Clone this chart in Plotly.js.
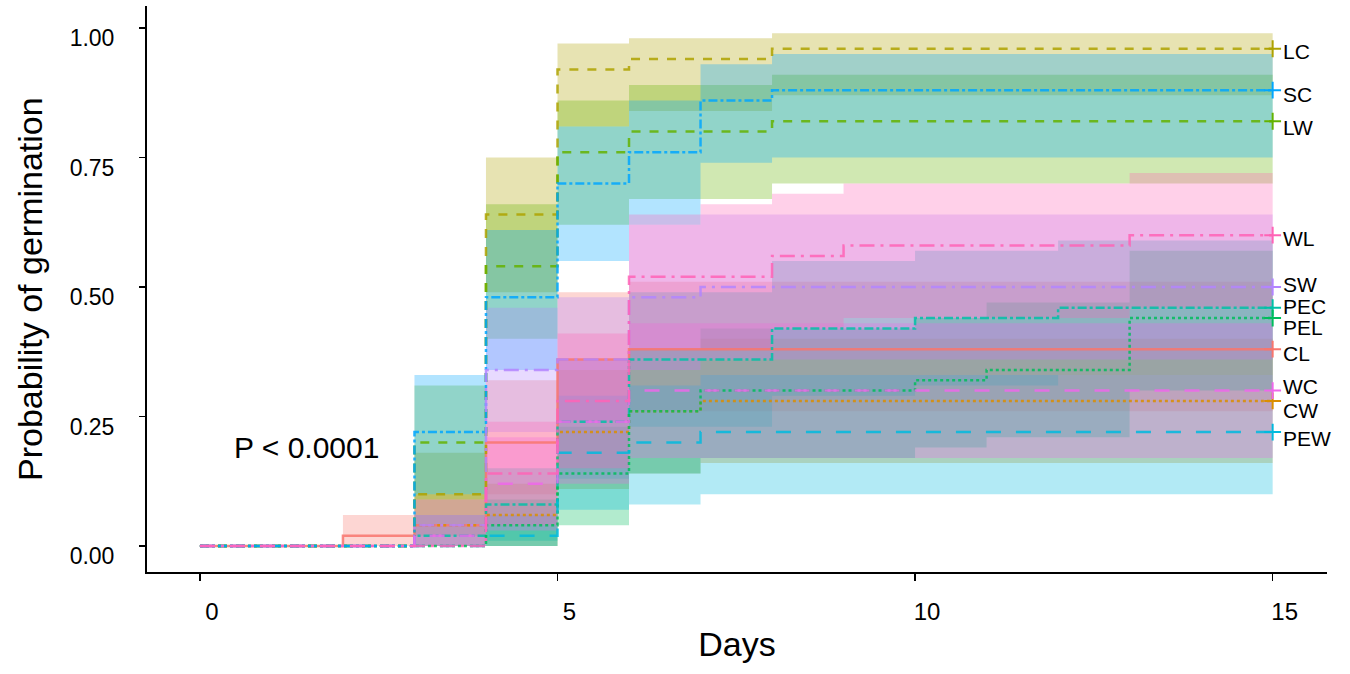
<!DOCTYPE html>
<html>
<head>
<meta charset="utf-8">
<script src="https://cdn.plot.ly/plotly-3.0.1.min.js"></script>
<style>
  body { margin: 0; background: #fff; }
  #plotDiv { width: 1350px; height: 674px; }
</style>
</head>
<body>
<div id="plotDiv"></div>
<script>
var days = [0,1,2,3,4,5,6,7,8,9,10,11,12,13,14,15];
var groups = ['CL','CW','LC','LW','PEC','PEL','PEW','SC','SW','WC','WL'];

// cumulative germination (KM estimate) per day, with lower / upper band
var CL     = [0,0,0.02,0.04,0.20,0.36,0.38,0.38,0.38,0.38,0.38,0.38,0.38,0.38,0.38,0.38];
var CL_lo  = [0,0,0,0,0.10,0.24,0.26,0.26,0.26,0.26,0.26,0.26,0.26,0.26,0.26,0.26];
var CL_hi  = [0,0,0.06,0.10,0.32,0.49,0.51,0.51,0.51,0.51,0.51,0.51,0.51,0.51,0.51,0.51];

var CW     = [0,0,0,0.04,0.06,0.22,0.26,0.28,0.28,0.28,0.28,0.28,0.28,0.28,0.28,0.28];
var CW_lo  = [0,0,0,0,0,0.11,0.14,0.16,0.16,0.16,0.16,0.16,0.16,0.16,0.16,0.16];
var CW_hi  = [0,0,0,0.09,0.12,0.34,0.38,0.40,0.40,0.40,0.40,0.40,0.40,0.40,0.40,0.40];

var LC     = [0,0,0,0.10,0.64,0.92,0.94,0.94,0.96,0.96,0.96,0.96,0.96,0.96,0.96,0.96];
var LC_lo  = [0,0,0,0.02,0.49,0.81,0.84,0.84,0.87,0.87,0.87,0.87,0.87,0.87,0.87,0.87];
var LC_hi  = [0,0,0,0.18,0.75,0.97,0.98,0.98,0.99,0.99,0.99,0.99,0.99,0.99,0.99,0.99];

var LW     = [0,0,0,0.20,0.54,0.76,0.80,0.80,0.82,0.82,0.82,0.82,0.82,0.82,0.82,0.82];
var LW_lo  = [0,0,0,0.09,0.40,0.62,0.67,0.67,0.70,0.70,0.70,0.70,0.70,0.70,0.70,0.70];
var LW_hi  = [0,0,0,0.31,0.66,0.86,0.89,0.89,0.91,0.91,0.91,0.91,0.91,0.91,0.91,0.91];

var PEC    = [0,0,0,0.02,0.08,0.24,0.36,0.36,0.42,0.42,0.44,0.44,0.46,0.46,0.46,0.46];
var PEC_lo = [0,0,0,0,0.01,0.13,0.23,0.23,0.29,0.29,0.31,0.31,0.33,0.33,0.33,0.33];
var PEC_hi = [0,0,0,0.06,0.15,0.36,0.49,0.49,0.55,0.55,0.57,0.57,0.59,0.59,0.59,0.59];

var PEL    = [0,0,0,0,0.04,0.14,0.26,0.30,0.30,0.30,0.32,0.34,0.34,0.44,0.44,0.44];
var PEL_lo = [0,0,0,0,0,0.04,0.14,0.17,0.17,0.17,0.19,0.21,0.21,0.30,0.30,0.30];
var PEL_hi = [0,0,0,0,0.09,0.23,0.38,0.42,0.42,0.42,0.44,0.47,0.47,0.57,0.57,0.57];

var PEW    = [0,0,0,0,0.02,0.18,0.20,0.22,0.22,0.22,0.22,0.22,0.22,0.22,0.22,0.22];
var PEW_lo = [0,0,0,0,0,0.07,0.08,0.10,0.10,0.10,0.10,0.10,0.10,0.10,0.10,0.10];
var PEW_hi = [0,0,0,0,0.06,0.29,0.31,0.33,0.33,0.33,0.33,0.33,0.33,0.33,0.33,0.33];

var SC     = [0,0,0,0.22,0.48,0.70,0.76,0.86,0.88,0.88,0.88,0.88,0.88,0.88,0.88,0.88];
var SC_lo  = [0,0,0,0.10,0.34,0.55,0.62,0.74,0.75,0.75,0.75,0.75,0.75,0.75,0.75,0.75];
var SC_hi  = [0,0,0,0.33,0.61,0.81,0.86,0.93,0.95,0.95,0.95,0.95,0.95,0.95,0.95,0.95];

var SW     = [0,0,0,0.04,0.34,0.36,0.48,0.50,0.50,0.50,0.50,0.50,0.50,0.50,0.50,0.50];
var SW_lo  = [0,0,0,0,0.22,0.24,0.34,0.36,0.36,0.36,0.36,0.36,0.36,0.36,0.36,0.36];
var SW_hi  = [0,0,0,0.09,0.46,0.48,0.62,0.64,0.64,0.64,0.64,0.64,0.64,0.64,0.64,0.64];

var WC     = [0,0,0,0.02,0.12,0.24,0.30,0.30,0.30,0.30,0.30,0.30,0.30,0.30,0.30,0.30];
var WC_lo  = [0,0,0,0,0.03,0.12,0.17,0.17,0.17,0.17,0.17,0.17,0.17,0.17,0.17,0.17];
var WC_hi  = [0,0,0,0.06,0.21,0.36,0.43,0.43,0.43,0.43,0.43,0.43,0.43,0.43,0.43,0.43];

var WL     = [0,0,0,0,0.14,0.28,0.52,0.52,0.56,0.58,0.58,0.58,0.58,0.60,0.60,0.60];
var WL_lo  = [0,0,0,0,0.04,0.15,0.38,0.38,0.42,0.44,0.44,0.44,0.44,0.46,0.46,0.46];
var WL_hi  = [0,0,0,0,0.24,0.41,0.64,0.66,0.68,0.70,0.70,0.70,0.70,0.72,0.72,0.72];

var est = {CL:CL, CW:CW, LC:LC, LW:LW, PEC:PEC, PEL:PEL, PEW:PEW, SC:SC, SW:SW, WC:WC, WL:WL};
var lower = {CL:CL_lo, CW:CW_lo, LC:LC_lo, LW:LW_lo, PEC:PEC_lo, PEL:PEL_lo, PEW:PEW_lo, SC:SC_lo, SW:SW_lo, WC:WC_lo, WL:WL_lo};
var upper = {CL:CL_hi, CW:CW_hi, LC:LC_hi, LW:LW_hi, PEC:PEC_hi, PEL:PEL_hi, PEW:PEW_hi, SC:SC_hi, SW:SW_hi, WC:WC_hi, WL:WL_hi};

// hue palette, PEC / PEL as they appear on the crosses
var colors = {CL:'#F8766D', CW:'#DB8E00', LC:'#AEA200', LW:'#64B200', PEC:'#00C1A7', PEL:'#00BD5C',
              PEW:'#00BADE', SC:'#00A6FF', SW:'#B385FF', WC:'#EF67EB', WL:'#FF63B6'};
var dashes = {CL:'solid', CW:'dot', LC:'dash', LW:'dash', PEC:'dashdot', PEL:'dot',
              PEW:'longdash', SC:'dashdot', SW:'longdashdot', WC:'longdash', WL:'longdashdot'};
var labelShift = {CL:-4, CW:-10, LC:-3, LW:-6, PEC:1, PEL:-9, PEW:-6, SC:-4, SW:3, WC:4, WL:-3};

function rgba(hex, a){
  var r = parseInt(hex.substr(1,2),16);
  var g = parseInt(hex.substr(3,2),16);
  var b = parseInt(hex.substr(5,2),16);
  return 'rgba(' + r + ',' + g + ',' + b + ',' + a + ')';
}

function makePlot(){
  var data = [];
  var annotations = [];
  var last = days.length - 1;
  var fam = 'Liberation Sans, Arial, sans-serif';

  // ribbons
  groups.forEach(function(g){
    data.push({
      x: days, y: lower[g], type: 'scatter', mode: 'lines',
      line: {shape: 'hv', width: 0, color: 'rgba(0,0,0,0)'},
      hoverinfo: 'skip', showlegend: false
    });
    data.push({
      x: days, y: upper[g], type: 'scatter', mode: 'lines',
      line: {shape: 'hv', width: 0, color: 'rgba(0,0,0,0)'},
      fill: 'tonexty', fillcolor: rgba(colors[g], 0.3),
      hoverinfo: 'skip', showlegend: false
    });
  });

  // step curves
  groups.forEach(function(g){
    data.push({
      x: days, y: est[g], type: 'scatter', mode: 'lines',
      line: {shape: 'hv', width: 2.5, color: colors[g], dash: dashes[g]},
      opacity: 0.85, showlegend: false, name: g
    });
    data.push({
      x: [days[last]], y: [est[g][last]], type: 'scatter', mode: 'markers',
      marker: {symbol: 'cross-thin', size: 12, line: {width: 2, color: colors[g]}},
      hoverinfo: 'skip', showlegend: false
    });
    annotations.push({
      x: days[last], y: est[g][last], xref: 'x', yref: 'y',
      text: g, showarrow: false, xanchor: 'left', xshift: 9, yshift: labelShift[g],
      borderpad: 0, font: {size: 21, color: '#000', family: fam}
    });
  });

  annotations.push({
    x: 0.45, y: 0.19, xref: 'x', yref: 'y', text: 'P < 0.0001', showarrow: false,
    xanchor: 'left', font: {size: 30, color: '#000', family: fam}
  });

  // y title as a rotated annotation, left of the tick labels
  annotations.push({
    x: 0, xref: 'paper', xanchor: 'center', xshift: -117, y: 0.5, yref: 'paper', yanchor: 'middle',
    text: 'Probability of germination', showarrow: false, textangle: -90,
    font: {size: 34, color: '#000', family: fam}
  });

  var layout = {
    width: 1350, height: 674,
    margin: {l: 147, r: 23, t: 6, b: 102},
    paper_bgcolor: '#fff', plot_bgcolor: '#fff',
    font: {family: fam, color: '#000'},
    xaxis: {
      range: [-0.74, 15.76], tickvals: [0,5,10,15], ticktext: ['0','5','10','15'],
      showgrid: false, zeroline: false, showline: true, linecolor: '#000', linewidth: 2,
      ticks: 'outside', ticklen: 7, tickwidth: 1.5, tickcolor: '#000',
      tickfont: {size: 24}, ticklabelshift: 12, ticklabelstandoff: 10,
      title: {text: 'Days', font: {size: 34}, standoff: 8}
    },
    yaxis: {
      range: [-0.0502, 1.0425], tickvals: [0,0.25,0.5,0.75,1], ticktext: ['0.00','0.25','0.50','0.75','1.00'],
      showgrid: false, zeroline: false, showline: true, linecolor: '#000', linewidth: 2,
      ticks: 'outside', ticklen: 6, tickwidth: 1.5, tickcolor: '#000',
      tickfont: {size: 23}, ticklabelshift: 10, ticklabelstandoff: 20
    },
    annotations: annotations
  };

  Plotly.newPlot('plotDiv', data, layout, {staticPlot: true});
}

makePlot();
</script>
</body>
</html>
